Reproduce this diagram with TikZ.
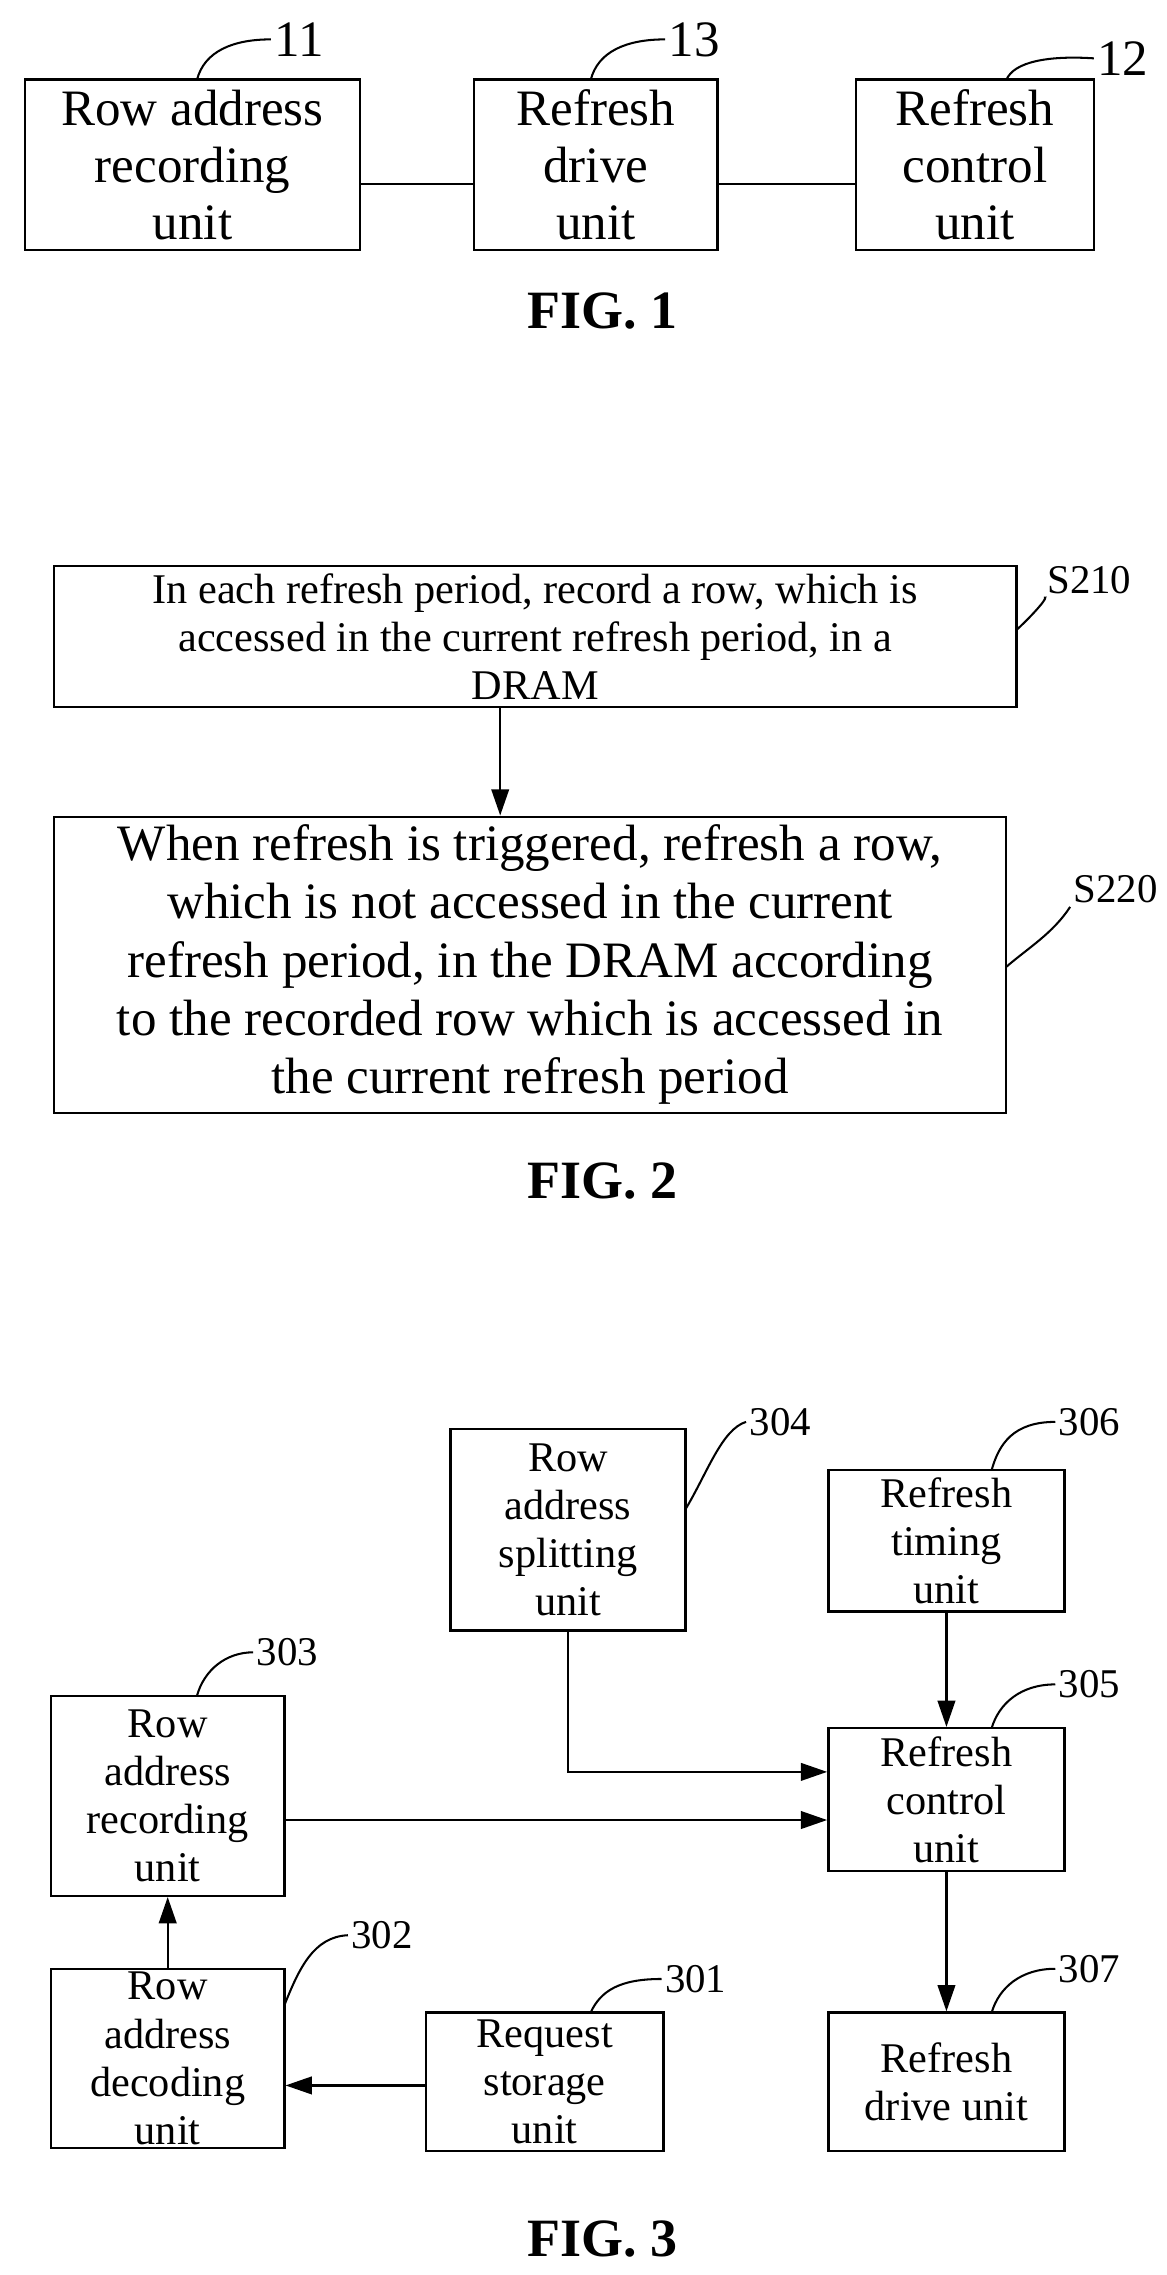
\documentclass[tikz,border=0pt]{standalone}
\usepackage{fontspec}
\setmainfont{Liberation Serif}
\usetikzlibrary{arrows.meta}
\begin{document}
\begin{tikzpicture}[x=0.5pt,y=-0.5pt,
 box/.style={draw,line width=0.8pt,align=center,inner sep=0pt},
 lab/.style={font=\fontsize{14}{16}\selectfont,inner sep=1pt},
 lead/.style={line width=0.7pt},
 arr/.style={line width=0.8pt,-{Triangle[length=9pt,width=6pt]}},
 f1/.style={font=\fontsize{17.5}{19.5}\selectfont},
 f3/.style={font=\fontsize{14.5}{16.5}\selectfont},
 figcap/.style={font=\bfseries\fontsize{18.5}{20}\selectfont}]
\useasboundingbox (0,0) rectangle (800,1560);
% FIG 1
\node[box,f1,minimum width=115pt,minimum height=58.5pt] (a11) at (132,113) {Row address\\recording\\unit};
\node[box,f1,minimum width=83.5pt,minimum height=58.5pt] (a13) at (408.5,113) {Refresh\\drive\\unit};
\node[box,f1,minimum width=81.5pt,minimum height=58.5pt] (a12) at (668.5,113) {Refresh\\control\\unit};
\draw[line width=0.8pt] (a11.east|-0,126) -- (a13.west|-0,126);
\draw[line width=0.8pt] (a13.east|-0,126) -- (a12.west|-0,126);
\node[lab,f1] (l11) at (205,27) {11};
\node[lab,f1] (l13) at (476,27) {13};
\node[lab,f1] (l12) at (770,40) {12};
\draw[lead] (135,55) .. controls (140,35) and (160,27) .. (l11.west);
\draw[lead] (405,55) .. controls (410,35) and (430,27) .. (l13.west);
\draw[lead] (690,55) .. controls (695,42) and (720,38) .. (l12.west);
\node[figcap] (c1) at (413,213) {FIG. 1};
% FIG 2
\node[box,font=\fontsize{14.5}{16.5}\selectfont,minimum width=330pt,minimum height=48.5pt] (s210) at (367,436.5) {In each refresh period, record a row, which is\\accessed in the current refresh period, in a\\DRAM};
\node[box,font=\fontsize{17.5}{20}\selectfont,minimum width=326.5pt,minimum height=101.5pt] (s220) at (363.5,661.5) {When refresh is triggered, refresh a row,\\which is not accessed in the current\\refresh period, in the DRAM according\\to the recorded row which is accessed in\\the current refresh period};
\draw[arr] (s210.south-|343,0) -- (s220.north-|343,0);
\node[lab] (ls210) at (747,398) {S210};
\node[lab] (ls220) at (765,610) {S220};
\draw[lead] (697,432) .. controls (710,420) and (720,408) .. (ls210.south west);
\draw[lead] (690,663) .. controls (705,650) and (722,640) .. (ls220.south west);
\node[figcap] (c2) at (413,810) {FIG. 2};
% FIG 3
\node[box,f3,minimum width=80.5pt,minimum height=69pt] (b304) at (389.5,1049) {Row\\address\\splitting\\unit};
\node[box,f3,minimum width=81pt,minimum height=48.5pt] (b306) at (649,1056.5) {Refresh\\timing\\unit};
\node[box,f3,minimum width=80pt,minimum height=68.5pt] (b303) at (115,1231.5) {Row\\address\\recording\\unit};
\node[box,f3,minimum width=81pt,minimum height=49pt] (b305) at (649,1234) {Refresh\\control\\unit};
\node[box,f3,minimum width=80pt,minimum height=61.5pt] (b302) at (115,1411.5) {Row\\address\\decoding\\unit};
\node[box,f3,minimum width=81.5pt,minimum height=47.5pt] (b301) at (373.5,1427.5) {Request\\storage\\unit};
\node[box,f3,minimum width=81pt,minimum height=47.5pt] (b307) at (649,1427.5) {Refresh\\drive unit};
\draw[arr] (b306) -- (b305);
\draw[arr] (b305) -- (b307);
\draw[arr] (b302) -- (b303);
\draw[arr] (b301.west|-0,1430) -- (b302.east|-0,1430);
\draw[arr] (b303.east|-0,1248) -- (b305.west|-0,1248);
\draw[arr] (b304.south) |- (b305.west|-0,1215);
\node[lab] (l304) at (535,975) {304};
\node[lab] (l306) at (747,975) {306};
\node[lab] (l303) at (197,1133) {303};
\node[lab] (l305) at (747,1155) {305};
\node[lab] (l302) at (262,1327) {302};
\node[lab] (l301) at (477,1357) {301};
\node[lab] (l307) at (747,1350) {307};
\draw[lead] (470,1035) .. controls (485,1010) and (495,980) .. (l304.west);
\draw[lead] (680,1008) .. controls (685,990) and (695,975) .. (l306.west);
\draw[lead] (135,1163) .. controls (140,1145) and (155,1133) .. (l303.west);
\draw[lead] (680,1185) .. controls (685,1168) and (700,1155) .. (l305.west);
\draw[lead] (195,1375) .. controls (205,1350) and (215,1328) .. (l302.west);
\draw[lead] (405,1380) .. controls (412,1365) and (425,1357) .. (l301.west);
\draw[lead] (680,1380) .. controls (685,1363) and (700,1350) .. (l307.west);
\node[figcap] (c3) at (413,1535) {FIG. 3};
\end{tikzpicture}
\end{document}
